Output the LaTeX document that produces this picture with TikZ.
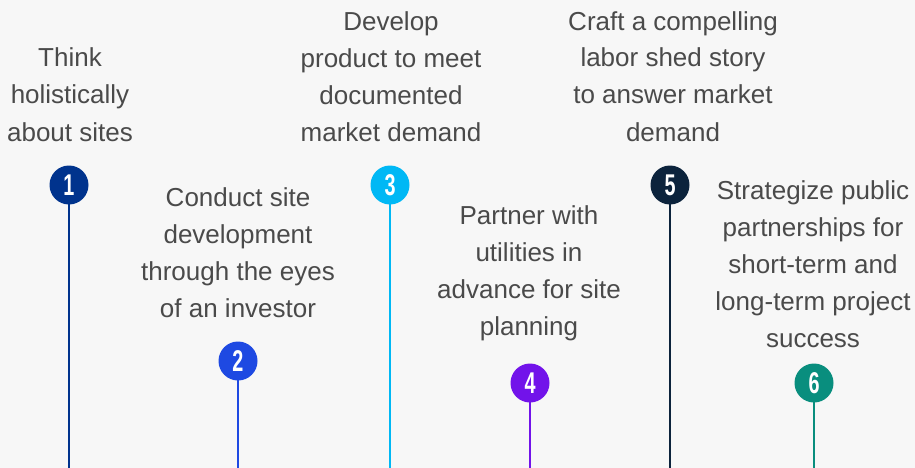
\documentclass[tikz,border=0pt]{standalone}
\usepackage{fontspec}
\setmainfont{Liberation Sans}
\definecolor{paper}{HTML}{F7F7F7}
\definecolor{txt}{HTML}{4A4A4A}
\definecolor{cone}{HTML}{00338D}
\definecolor{ctwo}{HTML}{1E49E2}
\definecolor{cthree}{HTML}{00B8F5}
\definecolor{cfour}{HTML}{7213EA}
\definecolor{cfive}{HTML}{0C233C}
\definecolor{csix}{HTML}{098E7E}
\newcommand{\num}[1]{\scalebox{0.66}[1]{#1}}
\begin{document}
\begin{tikzpicture}[x=1pt,y=-1pt,
	step text/.style={align=center,anchor=base,inner sep=0pt,text=txt,
		font=\fontsize{26}{37}\selectfont},
	pin/.style={circle,fill=#1,minimum size=39pt,inner sep=0pt,text=white,
		font=\fontsize{30}{30}\selectfont\bfseries},
	stem/.style={draw=#1,line width=1.6pt}]
	\useasboundingbox (0,0) rectangle (915,468);
	\fill[paper] (0,0) rectangle (915,468);
	% texts above the pins (base = last line)
	\node[step text] (t1) at (70,141) {Think\\holistically\\about sites};
	\node[step text] (t2) at (238,317) {Conduct site\\development\\through the eyes\\of an investor};
	\node[step text] (t3) at (391,142) {Develop\\product to meet\\documented\\market demand};
	\node[step text] (t4) at (529,335) {Partner with\\utilities in\\advance for site\\planning};
	\node[step text] (t5) at (673,141) {Craft a compelling\\labor shed story\\to answer market\\demand};
	\node[step text] (t6) at (813,347) {Strategize public\\partnerships for\\short-term and\\long-term project\\success};
	% pins
	\coordinate (b1) at (69,468);
	\coordinate (b2) at (238,468);
	\coordinate (b3) at (390,468);
	\coordinate (b4) at (530,468);
	\coordinate (b5) at (670,468);
	\coordinate (b6) at (814,468);
	\draw[stem=cone] (69,185) -- (b1);
	\draw[stem=ctwo] (238,361) -- (b2);
	\draw[stem=cthree] (390,185) -- (b3);
	\draw[stem=cfour] (530,383) -- (b4);
	\draw[stem=cfive] (670,185) -- (b5);
	\draw[stem=csix] (814,383) -- (b6);
	\node[pin=cone] (p1) at (69,185) {\num{1}};
	\node[pin=ctwo] (p2) at (238,361) {\num{2}};
	\node[pin=cthree] (p3) at (390,185) {\num{3}};
	\node[pin=cfour] (p4) at (530,383) {\num{4}};
	\node[pin=cfive] (p5) at (670,185) {\num{5}};
	\node[pin=csix] (p6) at (814,383) {\num{6}};
\end{tikzpicture}
\end{document}
